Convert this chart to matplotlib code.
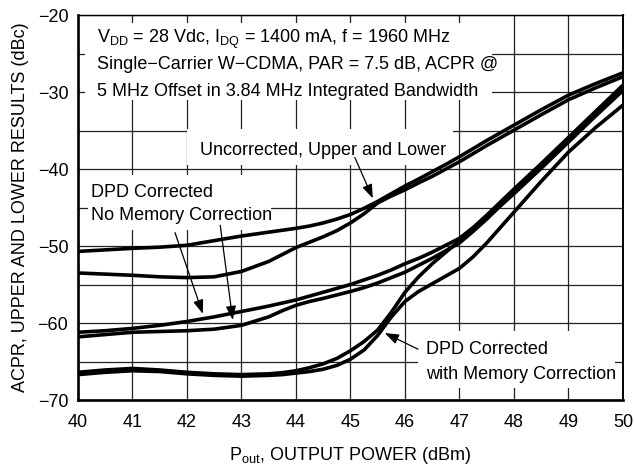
import matplotlib
matplotlib.use("Agg")
import matplotlib.pyplot as plt
from matplotlib.patches import Rectangle

plt.rcParams['font.family'] = ['Liberation Sans', 'DejaVu Sans']
plt.rcParams['mathtext.fontset'] = 'custom'
plt.rcParams['mathtext.rm'] = 'Liberation Sans'

# output power (dBm)
pout = [40, 40.5, 41, 41.5, 42, 42.5, 43, 43.5, 43.75, 44, 44.25, 44.5, 44.75, 45, 45.25,
        45.5, 45.75, 46, 46.25, 46.5, 46.75, 47, 47.25, 47.5, 47.75, 48, 48.5, 49, 49.5, 50]

# uncorrected, upper and lower
unc_a = [-50.7, -50.5, -50.3, -50.15, -49.9, -49.3, -48.7, -48.2, -47.95, -47.7, -47.4,
         -47.0, -46.5, -45.9, -45.1, -44.2, -43.2, -42.2, -41.3, -40.35, -39.4, -38.4,
         -37.35, -36.3, -35.3, -34.3, -32.3, -30.4, -28.9, -27.5]
unc_b = [-53.5, -53.65, -53.8, -54.0, -54.1, -54.0, -53.3, -52.0, -51.1, -50.2, -49.5,
         -48.8, -48.0, -47.0, -45.8, -44.4, -43.5, -42.7, -41.8, -40.95, -40.0, -39.05,
         -38.0, -36.95, -35.95, -34.95, -32.95, -31.0, -29.45, -28.0]

# DPD corrected, no memory correction
nomem_a = [-61.2, -61.0, -60.7, -60.3, -59.8, -59.2, -58.5, -57.8, -57.4, -57.0, -56.5,
           -56.0, -55.5, -55.0, -54.4, -53.8, -53.1, -52.3, -51.6, -50.8, -49.9, -49.0,
           -47.6, -46.0, -44.3, -42.6, -39.3, -35.9, -32.5, -29.1]
nomem_b = [-61.8, -61.5, -61.2, -61.1, -61.0, -60.8, -60.3, -59.2, -58.4, -57.7, -57.2,
           -56.8, -56.35, -55.9, -55.4, -54.8, -54.1, -53.4, -52.5, -51.6, -50.6, -49.6,
           -48.1, -46.5, -44.8, -43.2, -39.9, -36.5, -33.1, -29.8]

# DPD corrected, with memory correction
mem_a = [-66.4, -66.1, -65.9, -66.1, -66.4, -66.6, -66.7, -66.6, -66.45, -66.2, -65.8,
         -65.3, -64.6, -63.6, -62.4, -60.9, -58.6, -56.0, -54.0, -52.3, -50.8, -49.3,
         -47.8, -46.2, -44.6, -42.9, -39.5, -36.2, -32.8, -29.4]
mem_b = [-66.7, -66.4, -66.2, -66.3, -66.6, -66.8, -66.9, -66.8, -66.7, -66.5, -66.3,
         -66.0, -65.5, -64.7, -63.5, -61.6, -59.2, -57.2, -55.9, -54.9, -53.9, -52.9,
         -51.4, -49.6, -47.6, -45.6, -41.6, -37.8, -34.6, -31.7]

xticks = [40, 41, 42, 43, 44, 45, 46, 47, 48, 49, 50]
yticks = [-70, -60, -50, -40, -30, -20]
ygrid = [-65, -55, -45, -35, -25]

fig = plt.figure(figsize=(6.34, 4.70), dpi=100)
ax = fig.add_axes([0.1230, 0.1489, 0.8596, 0.8191])

for y in (unc_a, unc_b, nomem_a, nomem_b, mem_a, mem_b):
    ax.plot(pout, y, color='black', lw=2.6, solid_joinstyle='round',
            solid_capstyle='butt', zorder=3)

ax.set_xlim(40, 50)
ax.set_ylim(-70, -20)
ax.set_xticks(xticks)
ax.set_yticks(yticks)
ax.set_yticks(ygrid, minor=True)
ax.set_axisbelow(True)
ax.grid(True, which='both', color='#222222', lw=0.9)
ax.tick_params(which='both', length=0, labelsize=13)
ax.tick_params(axis='x', pad=10)
ax.tick_params(axis='y', pad=7)

for side, w in (('left', 1.9), ('bottom', 1.9), ('top', 1.0), ('right', 1.4)):
    ax.spines[side].set_linewidth(w)

ax.set_xlabel(r'P$_{\mathregular{out}}$, OUTPUT POWER (dBm)', fontsize=13, labelpad=10)
ax.set_ylabel('ACPR, UPPER AND LOWER RESULTS (dBc)', fontsize=13, labelpad=6)

# white label backgrounds
for x0, y0, x1, y1 in ((40.13, -31.07, 47.60, -21.04),
                       (42.00, -39.50, 46.88, -34.85),
                       (40.18, -47.86, 43.54, -40.83),
                       (46.24, -68.44, 49.85, -61.02)):
    ax.add_patch(Rectangle((x0, y0), x1 - x0, y1 - y0, facecolor='white',
                           edgecolor='none', zorder=2))

fs = 13
ax.text(40.35, -23.65, r'V$_{\mathregular{DD}}$ = 28 Vdc, I$_{\mathregular{DQ}}$ = 1400 mA, f = 1960 MHz',
        fontsize=fs, va='baseline', zorder=4)
ax.text(40.35, -27.03, 'Single\u2212Carrier W\u2212CDMA, PAR = 7.5 dB, ACPR @',
        fontsize=fs, va='baseline', zorder=4)
ax.text(40.35, -30.55, '5 MHz Offset in 3.84 MHz Integrated Bandwidth',
        fontsize=fs, va='baseline', zorder=4)
ax.text(42.24, -38.23, 'Uncorrected, Upper and Lower', fontsize=fs, va='baseline', zorder=4)
ax.text(40.24, -43.57, 'DPD Corrected', fontsize=fs, va='baseline', zorder=4)
ax.text(40.24, -46.56, 'No Memory Correction', fontsize=fs, va='baseline', zorder=4)
ax.text(46.39, -64.0, 'DPD Corrected', fontsize=fs, va='baseline', zorder=4)
ax.text(46.39, -67.27, 'with Memory Correction', fontsize=fs, va='baseline', zorder=4)

arrow = dict(arrowstyle='-|>,head_length=0.6,head_width=0.22', color='black', lw=0.9,
             mutation_scale=14, shrinkA=0, shrinkB=0)
ax.annotate('', xy=(45.41, -43.8), xytext=(45.08, -38.5), arrowprops=arrow, zorder=5)
ax.annotate('', xy=(42.29, -58.8), xytext=(41.78, -48.26), arrowprops=arrow, zorder=5)
ax.annotate('', xy=(42.84, -59.6), xytext=(42.61, -47.3), arrowprops=arrow, zorder=5)
ax.annotate('', xy=(45.63, -61.3), xytext=(46.24, -63.4), arrowprops=arrow, zorder=5)

fig.savefig('out.png', dpi=100)
